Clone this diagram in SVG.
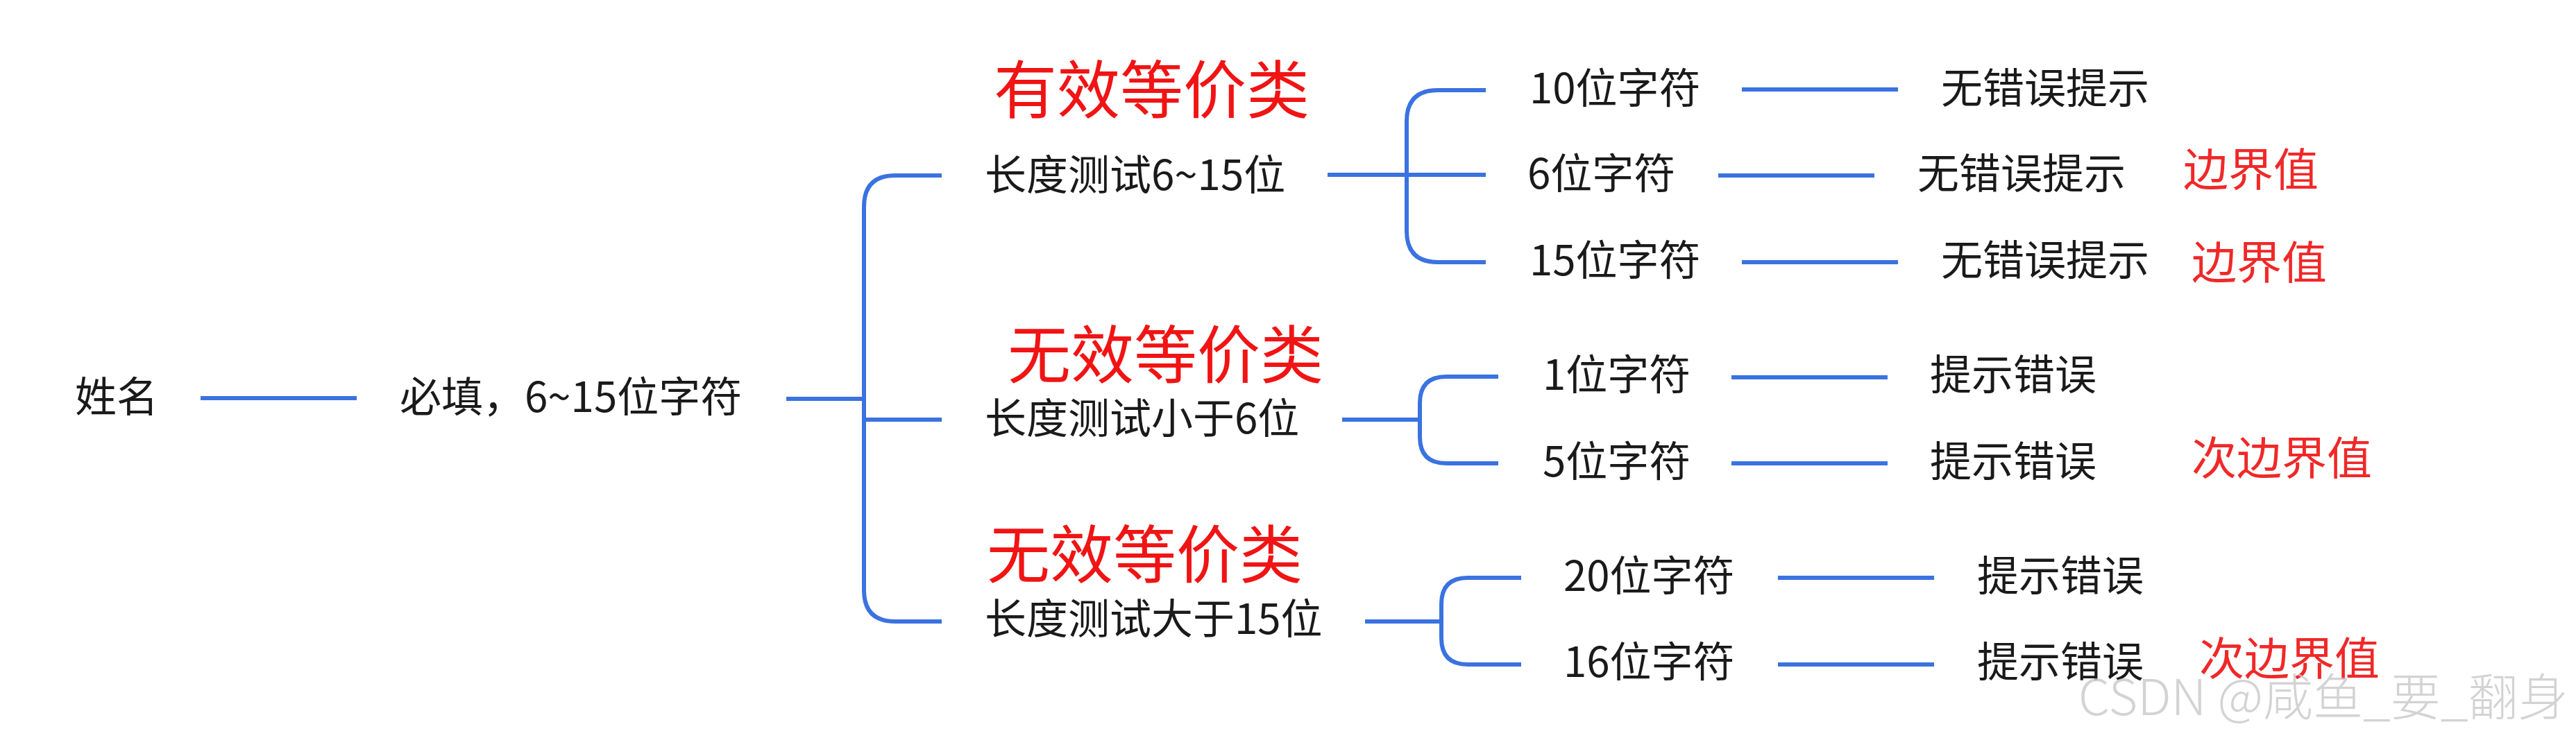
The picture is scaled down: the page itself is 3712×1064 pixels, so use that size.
<svg xmlns="http://www.w3.org/2000/svg" width="3712" height="1064" viewBox="0 0 3712 1064">
<style>
.t{font-family:"Noto Sans CJK SC","Noto Sans",sans-serif;font-size:60px;fill:#1a1a1a}
.big{font-family:"Noto Sans CJK SC","Noto Sans",sans-serif;font-size:91px;fill:#f01414;font-weight:400}
.red{font-family:"Noto Sans CJK SC","Noto Sans",sans-serif;font-size:65px;fill:#f02828}
.c{fill:none;stroke:#3a72e0;stroke-width:6;stroke-linecap:butt}
.wm{font-family:"Noto Sans CJK SC","Noto Sans",sans-serif;font-size:72px;fill:#c8c8c8;fill-opacity:0.8;font-weight:300}
</style>
<rect width="3712" height="1064" fill="#ffffff"/>
<g id="connectors">
<path class="c" d="M289,574 H514"/>
<path class="c" d="M1133,575 H1245"/>
<path class="c" d="M1357,253 H1290 Q1245,253 1245,298 V851 Q1245,896 1290,896 H1357"/>
<path class="c" d="M1245,605 H1357"/>
<path class="c" d="M1913,252 H2141"/>
<path class="c" d="M2141,130 H2072 Q2027,130 2027,175 V333 Q2027,378 2072,378 H2141"/>
<path class="c" d="M2510,129 H2735"/>
<path class="c" d="M2476,253 H2701"/>
<path class="c" d="M2510,378 H2735"/>
<path class="c" d="M1934,605 H2046"/>
<path class="c" d="M2159,543 H2084 Q2046,543 2046,581 V630 Q2046,668 2084,668 H2159"/>
<path class="c" d="M2495,544 H2720"/>
<path class="c" d="M2495,668 H2720"/>
<path class="c" d="M1967,896 H2077"/>
<path class="c" d="M2192,833 H2115 Q2077,833 2077,871 V920 Q2077,958 2115,958 H2192"/>
<path class="c" d="M2562,833 H2787"/>
<path class="c" d="M2562,958 H2787"/>
</g>
<g id="n-name"><text class="t" x="108" y="594">姓名</text></g>
<g id="n-required"><text class="t" x="576" y="594">必填，6~15位字符</text></g>
<g id="n-valid"><text class="big" x="1432" y="163">有效等价类</text><text class="t" x="1419" y="274">长度测试6~15位</text></g>
<g id="n-v10"><text class="t" x="2204" y="149">10位字符</text></g>
<g id="n-v10r"><text class="t" x="2797" y="149">无错误提示</text></g>
<g id="n-v6"><text class="t" x="2201" y="272">6位字符</text></g>
<g id="n-v6r"><text class="t" x="2763" y="272">无错误提示</text><text class="red" x="3146" y="268">边界值</text></g>
<g id="n-v15"><text class="t" x="2204" y="397">15位字符</text></g>
<g id="n-v15r"><text class="t" x="2797" y="397">无错误提示</text><text class="red" x="3158" y="402">边界值</text></g>
<g id="n-invalid1"><text class="big" x="1452" y="545">无效等价类</text><text class="t" x="1419" y="625">长度测试小于6位</text></g>
<g id="n-i1"><text class="t" x="2223" y="562">1位字符</text></g>
<g id="n-i1r"><text class="t" x="2781" y="562">提示错误</text></g>
<g id="n-i5"><text class="t" x="2223" y="687">5位字符</text></g>
<g id="n-i5r"><text class="t" x="2781" y="687">提示错误</text><text class="red" x="3158" y="684">次边界值</text></g>
<g id="n-invalid2"><text class="big" x="1422" y="833">无效等价类</text><text class="t" x="1419" y="914">长度测试大于15位</text></g>
<g id="n-i20"><text class="t" x="2253" y="852">20位字符</text></g>
<g id="n-i20r"><text class="t" x="2849" y="852">提示错误</text></g>
<g id="n-i16"><text class="t" x="2253" y="976">16位字符</text></g>
<g id="n-i16r"><text class="t" x="2849" y="976">提示错误</text><text class="red" x="3169" y="973">次边界值</text></g>
<g id="watermark"><text class="wm" x="2995" y="1031">CSDN @咸鱼_要_翻身</text></g>
</svg>
